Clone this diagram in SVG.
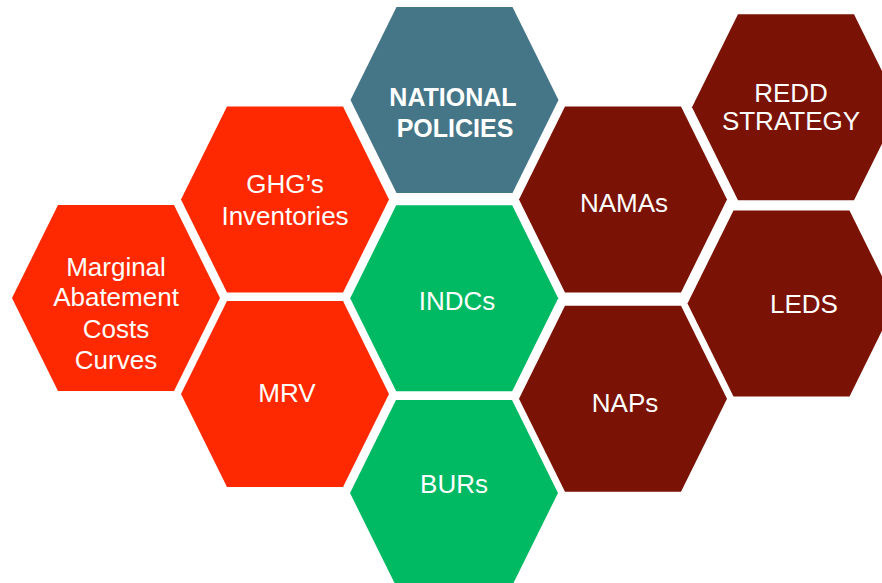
<svg xmlns="http://www.w3.org/2000/svg" xmlns:xlink="http://www.w3.org/1999/xlink" width="882" height="583" viewBox="0 0 882 583">
<style>
text{font-family:"Liberation Sans",Arial,sans-serif;font-size:26px;fill:#ffffff;text-anchor:middle}
.b{font-weight:bold;font-size:25px}
.red{fill:#FE2900}
.dark{fill:#7A1205}
.green{fill:#00B963}
.blue{fill:#457688}
</style>
<defs>
<polygon id="hex" points="-104,0 -58,-93 58,-93 104,0 58,93 -58,93"/>
</defs>
<rect width="882" height="583" fill="#ffffff"/>
<g id="national-policies"><use href="#hex" x="454.5" y="100" class="blue"/><text class="b" x="453" y="106">NATIONAL</text><text class="b" x="455" y="137">POLICIES</text></g>
<g id="marginal"><use href="#hex" x="116" y="298" class="red"/><text x="116" y="276">Marginal</text><text x="116" y="306">Abatement</text><text x="116" y="338">Costs</text><text x="116" y="369">Curves</text></g>
<g id="ghg"><use href="#hex" x="285" y="199.5" class="red"/><text x="285" y="193">GHG’s</text><text x="285" y="225">Inventories</text></g>
<g id="mrv"><use href="#hex" x="285" y="394" class="red"/><text x="287" y="402">MRV</text></g>
<g id="indcs"><use href="#hex" x="454.2" y="298.3" class="green"/><text x="457" y="310">INDCs</text></g>
<g id="burs"><use href="#hex" x="454" y="493" class="green"/><text x="454" y="493">BURs</text></g>
<g id="namas"><use href="#hex" x="623" y="199.5" class="dark"/><text x="624" y="212">NAMAs</text></g>
<g id="naps"><use href="#hex" x="623" y="398.7" class="dark"/><text x="625" y="412">NAPs</text></g>
<g id="redd"><use href="#hex" x="796" y="107.3" class="dark"/><text x="791" y="102">REDD</text><text x="791" y="130">STRATEGY</text></g>
<g id="leds"><use href="#hex" x="791.5" y="303.5" class="dark"/><text x="804" y="313">LEDS</text></g>
<g id="connectors"></g>
</svg>
